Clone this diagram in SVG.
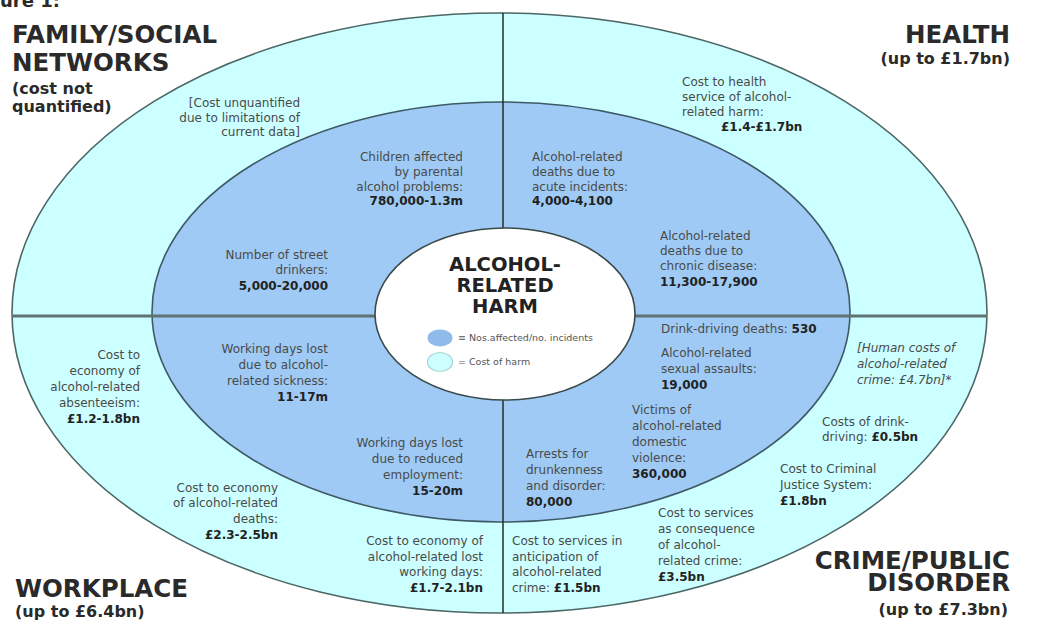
<svg xmlns="http://www.w3.org/2000/svg" width="1044" height="621" viewBox="0 0 1044 621">
<style>
.t{font-family:"DejaVu Sans","Verdana",sans-serif;font-size:12px;fill:#4a4a4a}
.b{font-weight:bold;fill:#222}
.i{font-style:italic}
.e{text-anchor:end}
.h{font-family:"DejaVu Sans","Verdana",sans-serif;font-weight:bold;font-size:24.5px;fill:#2a2a2a}
.s{font-family:"DejaVu Sans","Verdana",sans-serif;font-weight:bold;font-size:16px;fill:#2a2a2a}
.c{font-family:"DejaVu Sans","Verdana",sans-serif;font-weight:bold;font-size:19.5px;fill:#222;text-anchor:middle}
.l{font-family:"DejaVu Sans","Verdana",sans-serif;font-size:9.5px;fill:#555}
</style>
<rect width="1044" height="621" fill="#fff"/>
<text x="0" y="7" class="s" style="font-size:18px">ure 1:</text>

<g id="outer-ring">
<ellipse cx="499.5" cy="313" rx="487.5" ry="300" fill="#ccffff" stroke="#4d6666" stroke-width="1.6"/>
</g>
<g id="inner-ring">
<ellipse cx="501" cy="312" rx="349" ry="210" fill="#9ecaf5" stroke="#3f5a66" stroke-width="1.6"/>
</g>
<g id="connectors">
<line x1="12" y1="316" x2="987" y2="316" stroke="#5f7373" stroke-width="3"/>
<line x1="503" y1="13" x2="503" y2="613" stroke="#2a2a2a" stroke-width="1.5"/>
</g>
<g id="centre">
<ellipse cx="505" cy="314" rx="130" ry="86" fill="#fff" stroke="#3a4a4a" stroke-width="1.6"/>
<text class="c" x="505" y="271">ALCOHOL-</text>
<text class="c" x="505" y="292">RELATED</text>
<text class="c" x="505" y="313">HARM</text>
<ellipse cx="440" cy="338" rx="12.5" ry="8.5" fill="#8fbbeb"/>
<text class="l" x="458" y="341">≡ Nos.affected/no. incidents</text>
<ellipse cx="440" cy="362" rx="12.5" ry="9.5" fill="#ccffff" stroke="#a8d4d4" stroke-width="1.2"/>
<text class="l" x="458" y="365">= Cost of harm</text>
</g>

<g id="family-title">
<text class="h" x="12" y="43">FAMILY/SOCIAL</text>
<text class="h" x="12" y="71">NETWORKS</text>
<text class="s" x="12" y="94">(cost not</text>
<text class="s" x="12" y="112">quantified)</text>
</g>
<g id="health-title">
<text class="h e" x="1010" y="43">HEALTH</text>
<text class="s e" x="1010" y="64">(up to £1.7bn)</text>
</g>
<g id="workplace-title">
<text class="h" x="15" y="597">WORKPLACE</text>
<text class="s" x="15" y="617">(up to £6.4bn)</text>
</g>
<g id="crime-title">
<text class="h e" x="1010" y="569">CRIME/PUBLIC</text>
<text class="h e" x="1010" y="591">DISORDER</text>
<text class="s e" x="1008" y="615">(up to £7.3bn)</text>
</g>

<g id="family-cost">
<text class="t e" x="300" y="107">[Cost unquantified</text>
<text class="t e" x="300" y="122">due to limitations of</text>
<text class="t e" x="300" y="136">current data]</text>
</g>
<g id="children">
<text class="t e" x="463" y="161">Children affected</text>
<text class="t e" x="463" y="176">by parental</text>
<text class="t e" x="463" y="191">alcohol problems:</text>
<text class="t b e" x="463" y="205">780,000-1.3m</text>
</g>
<g id="street-drinkers">
<text class="t e" x="328" y="259">Number of street</text>
<text class="t e" x="328" y="274">drinkers:</text>
<text class="t b e" x="328" y="290">5,000-20,000</text>
</g>
<g id="health-cost">
<text class="t" x="682" y="86">Cost to health</text>
<text class="t" x="682" y="101">service of alcohol-</text>
<text class="t" x="682" y="116">related harm:</text>
<text class="t b" x="721" y="131">£1.4-£1.7bn</text>
</g>
<g id="acute-deaths">
<text class="t" x="532" y="161">Alcohol-related</text>
<text class="t" x="532" y="176">deaths due to</text>
<text class="t" x="532" y="191">acute incidents:</text>
<text class="t b" x="532" y="205">4,000-4,100</text>
</g>
<g id="chronic-deaths">
<text class="t" x="660" y="240">Alcohol-related</text>
<text class="t" x="660" y="255">deaths due to</text>
<text class="t" x="660" y="270">chronic disease:</text>
<text class="t b" x="660" y="286">11,300-17,900</text>
</g>
<g id="drink-driving-deaths">
<text class="t" x="661" y="333">Drink-driving deaths: <tspan class="b">530</tspan></text>
</g>
<g id="sexual-assaults">
<text class="t" x="661" y="357">Alcohol-related</text>
<text class="t" x="661" y="373">sexual assaults:</text>
<text class="t b" x="661" y="389">19,000</text>
</g>
<g id="domestic-violence">
<text class="t" x="632" y="414">Victims of</text>
<text class="t" x="632" y="430">alcohol-related</text>
<text class="t" x="632" y="446">domestic</text>
<text class="t" x="632" y="462">violence:</text>
<text class="t b" x="632" y="478">360,000</text>
</g>
<g id="arrests">
<text class="t" x="526" y="458">Arrests for</text>
<text class="t" x="526" y="474">drunkenness</text>
<text class="t" x="526" y="490">and disorder:</text>
<text class="t b" x="526" y="506">80,000</text>
</g>
<g id="sickness-days">
<text class="t e" x="328" y="353">Working days lost</text>
<text class="t e" x="328" y="369">due to alcohol-</text>
<text class="t e" x="328" y="385">related sickness:</text>
<text class="t b e" x="328" y="401">11-17m</text>
</g>
<g id="reduced-employment">
<text class="t e" x="463" y="447">Working days lost</text>
<text class="t e" x="463" y="463">due to reduced</text>
<text class="t e" x="463" y="479">employment:</text>
<text class="t b e" x="463" y="495">15-20m</text>
</g>
<g id="absenteeism-cost">
<text class="t e" x="140" y="359">Cost to</text>
<text class="t e" x="140" y="375">economy of</text>
<text class="t e" x="140" y="391">alcohol-related</text>
<text class="t e" x="140" y="407">absenteeism:</text>
<text class="t b e" x="140" y="423">£1.2-1.8bn</text>
</g>
<g id="deaths-cost">
<text class="t e" x="278" y="492">Cost to economy</text>
<text class="t e" x="278" y="507">of alcohol-related</text>
<text class="t e" x="278" y="523">deaths:</text>
<text class="t b e" x="278" y="539">£2.3-2.5bn</text>
</g>
<g id="lost-days-cost">
<text class="t e" x="483" y="545">Cost to economy of</text>
<text class="t e" x="483" y="561">alcohol-related lost</text>
<text class="t e" x="483" y="576">working days:</text>
<text class="t b e" x="483" y="592">£1.7-2.1bn</text>
</g>
<g id="anticipation-cost">
<text class="t" x="512" y="545">Cost to services in</text>
<text class="t" x="512" y="561">anticipation of</text>
<text class="t" x="512" y="576">alcohol-related</text>
<text class="t" x="512" y="592">crime: <tspan class="b">£1.5bn</tspan></text>
</g>
<g id="consequence-cost">
<text class="t" x="658" y="517">Cost to services</text>
<text class="t" x="658" y="533">as consequence</text>
<text class="t" x="658" y="549">of alcohol-</text>
<text class="t" x="658" y="565">related crime:</text>
<text class="t b" x="658" y="581">£3.5bn</text>
</g>
<g id="cjs-cost">
<text class="t" x="780" y="473">Cost to Criminal</text>
<text class="t" x="780" y="489">Justice System:</text>
<text class="t b" x="780" y="505">£1.8bn</text>
</g>
<g id="drink-driving-cost">
<text class="t" x="822" y="426">Costs of drink-</text>
<text class="t" x="822" y="441">driving: <tspan class="b">£0.5bn</tspan></text>
</g>
<g id="human-costs">
<text class="t i" x="857" y="352">[Human costs of</text>
<text class="t i" x="857" y="368">alcohol-related</text>
<text class="t i" x="857" y="384">crime: £4.7bn]*</text>
</g>
</svg>
